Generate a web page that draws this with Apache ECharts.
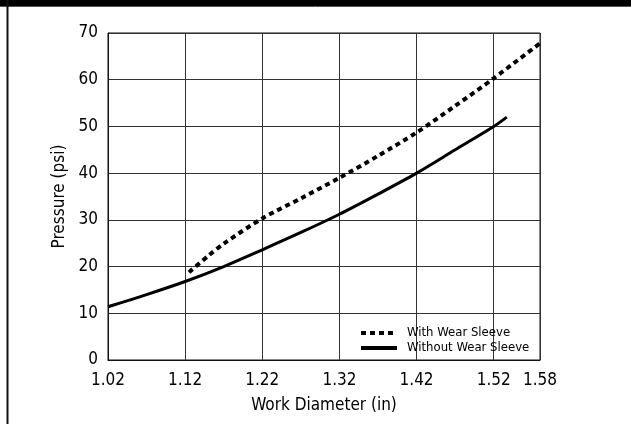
<!DOCTYPE html>
<html>
<head>
<meta charset="utf-8">
<script src="https://cdn.jsdelivr.net/npm/echarts@6/dist/echarts.min.js"></script>
<style>html,body{margin:0;padding:0;background:#fff;}#c{width:631px;height:424px;}</style>
</head>
<body>
<div id="c"></div>
<script>
var xTickLabels = ['1.02','1.12','1.22','1.32','1.42','1.52','1.58'];
var yTickLabels = ['0','10','20','30','40','50','60','70'];
var seriesNames = ['With Wear Sleeve', 'Without Wear Sleeve'];
var diamWith = [1.125, 1.15, 1.17, 1.22, 1.27, 1.32, 1.37, 1.42, 1.47, 1.52, 1.58];
var pressWith = [18.8, 22.3, 24.9, 30.3, 34.6, 39.0, 43.7, 48.7, 54.4, 60.3, 67.8];
var diamWithout = [1.02, 1.07, 1.12, 1.17, 1.22, 1.27, 1.32, 1.37, 1.42, 1.47, 1.52, 1.537];
var pressWithout = [11.4, 14.0, 16.8, 20.0, 23.6, 27.3, 31.2, 35.5, 40.0, 45.0, 50.0, 52.0];

var FONT = "'Liberation Sans Narrow', 'DejaVu Sans Condensed', 'Liberation Sans', sans-serif";
function pairs(xs, ys){ return xs.map(function(x,i){ return [x, ys[i]]; }); }
var xVals = xTickLabels.map(Number);

var chart = echarts.init(document.getElementById('c'), null, {renderer:'canvas'});
chart.setOption({
  animation: false,
  backgroundColor: '#fff',
  textStyle: {fontFamily: FONT, color: '#000'},
  graphic: [
    {type:'rect', shape:{x:0, y:0, width:631, height:6}, style:{fill:'#000'}},
    {type:'line', shape:{x1:0, y1:6.5, x2:631, y2:6.5}, style:{stroke:'#555', lineWidth:1}},
    {type:'line', shape:{x1:7.5, y1:0, x2:7.5, y2:424}, style:{stroke:'#111', lineWidth:2}}
  ],
  grid: {left:108, top:33, right:91, bottom:64, show:true, borderColor:'#111', borderWidth:1, containLabel:false},
  legend: {
    orient:'vertical', left:354, top:321, itemWidth:36, itemHeight:10, itemGap:1,
    itemStyle:{opacity:0},
    textStyle:{fontFamily:FONT, fontSize:13, lineHeight:14, color:'#000', padding:[0,0,0,5]},
    data: [
      {name:seriesNames[0], lineStyle:{width:4, type:[5,4], color:'#000'}},
      {name:seriesNames[1], lineStyle:{width:4, type:'solid', color:'#000'}}
    ]
  },
  xAxis: {
    type:'value', min:1.02, max:1.58,
    name:'Work Diameter (in)', nameLocation:'middle', nameGap:37,
    nameTextStyle:{fontFamily:FONT, fontSize:17, color:'#000'},
    axisLine:{show:true, lineStyle:{color:'#111', width:1}},
    axisTick:{show:false, customValues: xVals},
    splitLine:{show:true, lineStyle:{color:'#333', width:1}},
    axisLabel:{customValues: xVals, margin:12, fontFamily:FONT, fontSize:17, color:'#000',
      formatter:function(v){ return Number(v).toFixed(2); }}
  },
  yAxis: {
    type:'value', min:0, max:70, interval:10,
    name:'Pressure (psi)', nameLocation:'middle', nameGap:36,
    nameTextStyle:{fontFamily:FONT, fontSize:17, color:'#000'},
    axisLine:{show:true, lineStyle:{color:'#111', width:1}},
    axisTick:{show:false},
    splitLine:{show:true, lineStyle:{color:'#333', width:1}},
    axisLabel:{margin:10, fontFamily:FONT, fontSize:17, color:'#000',
      formatter:function(v){ return yTickLabels[Math.round(v/10)]; }}
  },
  series: [
    {name:seriesNames[0], type:'line', data:pairs(diamWith, pressWith), smooth:0.3, symbol:'none',
      lineStyle:{color:'#000', width:4, type:[5,4]}, itemStyle:{color:'#000'}},
    {name:seriesNames[1], type:'line', data:pairs(diamWithout, pressWithout), smooth:0.3, symbol:'none',
      lineStyle:{color:'#000', width:3, type:'solid'}, itemStyle:{color:'#000'}}
  ]
});
</script>
</body>
</html>
